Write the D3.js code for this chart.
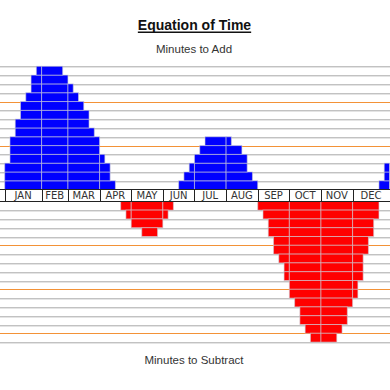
<!DOCTYPE html>
<html>
<head>
<meta charset="utf-8">
<script src="https://cdn.jsdelivr.net/npm/d3@7"></script>
<style>
  body { margin: 0; background: #fff; }
</style>
</head>
<body>
<div id="chart"></div>
<script>
// month labels and how many 5-day columns each month takes
const months = ['JAN', 'FEB', 'MAR', 'APR', 'MAY', 'JUN', 'JUL', 'AUG', 'SEP', 'OCT', 'NOV', 'DEC'];
const monthCols = [7, 5, 6, 6, 6, 6, 6, 6, 6, 6, 6, 7];

// whole minutes to add (+) or subtract (-), one value per 5-day column
const minutes = [
  3, 6, 8, 10, 11, 13, 14, 14, 14, 14, 14, 13, 12, 11, 10, 9, 7, 6, 4, 3, 1,
  0,
  -1, -2, -3, -3, -4, -4, -4, -3, -2, -1,
  0,
  1, 2, 3, 4, 5, 6, 6, 6, 6, 6, 5, 5, 4, 2, 1,
  -1, -2, -4, -6, -7, -9, -11, -12, -14, -15, -16, -16, -16, -16, -16, -15, -14, -12, -11, -9, -6, -4, -2,
  1, 3
];

const title = 'Equation of Time';
const topLabel = 'Minutes to Add';
const bottomLabel = 'Minutes to Subtract';

const width = 390;
const height = 390;

const svg = d3.select('#chart').append('svg')
  .attr('width', width)
  .attr('height', height)
  .style('font-family', '"Liberation Sans", Arial, sans-serif');

const cols = d3.range(minutes.length);
const x = d3.scaleBand().domain(cols).range([4.7, 389.5]);

const maxUp = d3.max(minutes);
const maxDown = -d3.min(minutes);
const yUp = d3.scaleLinear().domain([0, maxUp]).range([189.6, 66.3]);
const yDown = d3.scaleLinear().domain([0, maxDown]).range([201.3, 342.1]);

// horizontal grid, orange every 5 minutes
const grid = svg.append('g');
const levels = d3.range(1, maxUp + 1).map(v => ({ v, y: yUp(v) }))
  .concat(d3.range(1, maxDown + 1).map(v => ({ v, y: yDown(v) })));

levels.forEach(d => {
  const y = Math.round(d.y);
  if (d.v % 5 === 0) {
    grid.append('line')
      .attr('x1', 0).attr('x2', width)
      .attr('y1', y + 0.5).attr('y2', y + 0.5)
      .attr('stroke', '#f39237');
  } else {
    grid.append('line')
      .attr('x1', 0).attr('x2', width)
      .attr('y1', y + 0.5).attr('y2', y + 0.5)
      .attr('stroke', '#c2c2c2');
    grid.append('line')
      .attr('x1', 0).attr('x2', width)
      .attr('y1', y + 1.5).attr('y2', y + 1.5)
      .attr('stroke', '#e4e4e4');
  }
});

// one cell per month per minute row
const monthStart = Array.from(d3.cumsum([0].concat(monthCols)));
const cells = [];
months.forEach((m, i) => {
  const span = cols.slice(monthStart[i], monthStart[i + 1]);
  [1, -1].forEach(sign => {
    const top = d3.max(span, c => sign * minutes[c]);
    for (let k = 1; k <= top; k++) {
      const hit = span.filter(c => sign * minutes[c] >= k);
      cells.push({ sign, k, c0: d3.min(hit), c1: d3.max(hit) });
    }
  });
});

svg.append('g').selectAll('rect')
  .data(cells)
  .join('rect')
  .attr('x', d => x(d.c0))
  .attr('width', d => x(d.c1) + x.bandwidth() - x(d.c0))
  .attr('y', d => d.sign > 0 ? yUp(d.k) : yDown(d.k - 1))
  .attr('height', d => d.sign > 0 ? yUp(d.k - 1) - yUp(d.k) : yDown(d.k) - yDown(d.k - 1))
  .attr('fill', d => d.sign > 0 ? '#0000ff' : '#ff0000')
  .attr('stroke', 'rgba(205,205,215,0.6)')
  .attr('stroke-width', 1);

// month band
const axis = svg.append('g');
axis.append('rect')
  .attr('x', 0).attr('y', 190)
  .attr('width', width).attr('height', 11)
  .attr('fill', '#fff');

[189.5, 201.5].forEach(y => {
  axis.append('line')
    .attr('x1', 0).attr('x2', width)
    .attr('y1', y).attr('y2', y)
    .attr('stroke', '#222');
});

monthStart.forEach(c => {
  const px = Math.round(c < cols.length ? x(c) : x.range()[1]) + 0.5;
  axis.append('line')
    .attr('x1', px).attr('x2', px)
    .attr('y1', 189.5).attr('y2', 201.5)
    .attr('stroke', '#222');
});

axis.selectAll('text.month')
  .data(months)
  .join('text')
  .attr('class', 'month')
  .attr('x', (d, i) => {
    const a = x(monthStart[i]);
    const b = monthStart[i + 1] < cols.length ? x(monthStart[i + 1]) : x.range()[1];
    return (a + b) / 2;
  })
  .attr('y', 199.3)
  .attr('text-anchor', 'middle')
  .style('font-family', '"DejaVu Sans", Verdana, sans-serif')
  .style('font-size', '10px')
  .attr('fill', '#333')
  .text(d => d);

// titles
const t = svg.append('text')
  .attr('x', 194.5)
  .attr('y', 29.5)
  .attr('text-anchor', 'middle')
  .style('font-size', '14px')
  .style('font-weight', 'bold')
  .attr('fill', '#111')
  .text(title);

const tw = t.node().getComputedTextLength();
svg.append('line')
  .attr('x1', 194.5 - tw / 2).attr('x2', 194.5 + tw / 2)
  .attr('y1', 32.3).attr('y2', 32.3)
  .attr('stroke', '#111')
  .attr('stroke-width', 1.4);

svg.append('text')
  .attr('x', 194)
  .attr('y', 52.7)
  .attr('text-anchor', 'middle')
  .style('font-size', '11.5px')
  .attr('fill', '#333')
  .text(topLabel);

svg.append('text')
  .attr('x', 194)
  .attr('y', 364.3)
  .attr('text-anchor', 'middle')
  .style('font-size', '11.5px')
  .attr('fill', '#333')
  .text(bottomLabel);
</script>
</body>
</html>
